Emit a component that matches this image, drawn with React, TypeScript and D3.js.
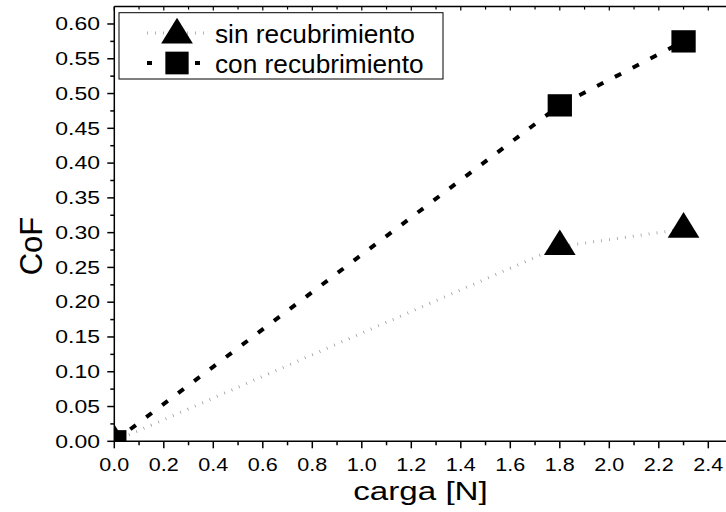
import React from "react";
import * as d3 from "d3";

const carga = [0, 1.8, 2.3];
const sinRecubrimiento = [0, 0.28, 0.305];
const conRecubrimiento = [0, 0.483, 0.575];

const xMajorTicks = [0, 0.2, 0.4, 0.6, 0.8, 1.0, 1.2, 1.4, 1.6, 1.8, 2.0, 2.2, 2.4];
const xMinorTicks = [0.1, 0.3, 0.5, 0.7, 0.9, 1.1, 1.3, 1.5, 1.7, 1.9, 2.1, 2.3];
const yMajorTicks = [0, 0.05, 0.1, 0.15, 0.2, 0.25, 0.3, 0.35, 0.4, 0.45, 0.5, 0.55, 0.6];
const yMinorTicks = [0.025, 0.075, 0.125, 0.175, 0.225, 0.275, 0.325, 0.375, 0.425, 0.475, 0.525, 0.575];

const seriesNames = ["sin recubrimiento", "con recubrimiento"];
const xTitle = "carga [N]";
const yTitle = "CoF";

const W = 726;
const H = 512;
const left = 114.3;
const right = 726;
const top = 6.6;
const bottom = 441.3;

export default function App() {
  const x = d3.scaleLinear().domain([0, 2.4715]).range([left, right]);
  const y = d3.scaleLinear().domain([0, 0.625]).range([bottom, top]);

  const sinData = carga.map((c, i) => [c, sinRecubrimiento[i]] as [number, number]);
  const conData = carga.map((c, i) => [c, conRecubrimiento[i]] as [number, number]);

  const line = d3
    .line<[number, number]>()
    .x((d) => x(d[0]))
    .y((d) => y(d[1]));

  const font = "'Liberation Sans', Arial, sans-serif";
  const triH = 25.7;
  const triW = 31.7;
  const tri = (cx: number, cy: number) =>
    `M${cx},${cy - (2 / 3) * triH} L${cx + triW / 2},${cy + triH / 3} L${cx - triW / 2},${cy + triH / 3} Z`;
  const sqW = 24.3;
  const sqH = 22.3;

  const grayStyle = { stroke: "#909090", strokeWidth: 3, strokeDasharray: "0.7 7.3", fill: "none" };
  const blackStyle = { stroke: "#000", strokeWidth: 4, strokeDasharray: "7 13", fill: "none" };

  return (
    <svg
      width={W}
      height={H}
      style={{ position: "absolute", left: 0, top: 0, background: "#fff" }}
      fontFamily={font}
    >
      <defs>
        <clipPath id="plotclip">
          <rect x={left} y={top} width={right - left} height={bottom - top} />
        </clipPath>
      </defs>
      <rect x={0} y={0} width={W} height={H} fill="#fff" />

      <g clipPath="url(#plotclip)">
        <path d={line(sinData) || ""} style={grayStyle} />
        <path d={line(conData) || ""} style={blackStyle} />
        {sinData.map((d, i) => (
          <path key={"t" + i} d={tri(x(d[0]), y(d[1]))} fill="#000" />
        ))}
        {conData.map((d, i) => (
          <rect
            key={"s" + i}
            x={x(d[0]) - sqW / 2}
            y={y(d[1]) - sqH / 2}
            width={sqW}
            height={sqH}
            fill="#000"
          />
        ))}
      </g>

      {/* axes lines */}
      <line x1={left} x2={right} y1={bottom} y2={bottom} stroke="#000" strokeWidth={1.5} />
      <line x1={left} x2={left} y1={top} y2={bottom} stroke="#000" strokeWidth={1.5} />
      <line x1={left} x2={right} y1={top} y2={top} stroke="#000" strokeWidth={1.5} />

      {/* x ticks */}
      {xMajorTicks.map((t) => (
        <g key={"xm" + t}>
          <line x1={x(t)} x2={x(t)} y1={bottom} y2={bottom + 7} stroke="#000" strokeWidth={1.5} />
          <line x1={x(t)} x2={x(t)} y1={top} y2={top + 4} stroke="#000" strokeWidth={1.2} />
          <g transform={`translate(${x(t)},${470.7}) scale(1.16,1)`}>
            <text x={0} y={0} textAnchor="middle" fontSize={18.6} fill="#000">
              {d3.format(".1f")(t)}
            </text>
          </g>
        </g>
      ))}
      {xMinorTicks.map((t) => (
        <g key={"xn" + t}>
          <line x1={x(t)} x2={x(t)} y1={bottom} y2={bottom + 4} stroke="#000" strokeWidth={1.5} />
          <line x1={x(t)} x2={x(t)} y1={top} y2={top + 3} stroke="#000" strokeWidth={1.2} />
        </g>
      ))}

      {/* y ticks */}
      {yMajorTicks.map((t) => (
        <g key={"ym" + t}>
          <line x1={left - 7} x2={left} y1={y(t)} y2={y(t)} stroke="#000" strokeWidth={1.5} />
          <g transform={`translate(${100},${y(t) + 6.3}) scale(1.3,1)`}>
            <text x={0} y={0} textAnchor="end" fontSize={17.7} fill="#000">
              {d3.format(".2f")(t)}
            </text>
          </g>
        </g>
      ))}
      {yMinorTicks.map((t) => (
        <line key={"yn" + t} x1={left - 4} x2={left} y1={y(t)} y2={y(t)} stroke="#000" strokeWidth={1.5} />
      ))}

      {/* axis titles */}
      <g transform={`translate(${420.5},${500}) scale(1.3,1)`}>
        <text x={0} y={0} textAnchor="middle" fontSize={25.5} fill="#000">
          {xTitle}
        </text>
      </g>
      <text
        transform={`translate(${41.5},${246}) rotate(-90)`}
        textAnchor="middle"
        fontSize={31}
        fill="#000"
      >
        {yTitle}
      </text>

      {/* legend */}
      <rect x={119} y={12.7} width={324} height={66.3} fill="#fff" stroke="#000" strokeWidth={1} />
      <line x1={147} x2={207} y1={33} y2={33} style={grayStyle} strokeDasharray="0.7 4.3" />
      <path d={tri(177, 33 + 2)} fill="#000" />
      <line x1={147} x2={152} y1={63} y2={63} stroke="#000" strokeWidth={4} />
      <line x1={195} x2={200} y1={63} y2={63} stroke="#000" strokeWidth={4} />
      <rect x={177 - 23.3 / 2} y={63 - 22.7 / 2} width={23.3} height={22.7} fill="#000" />
      <g transform={`translate(215,43.3) scale(1.05,1)`}>
        <text x={0} y={0} fontSize={25} fill="#000">
          {seriesNames[0]}
        </text>
      </g>
      <g transform={`translate(215,73.3) scale(1.05,1)`}>
        <text x={0} y={0} fontSize={25} fill="#000">
          {seriesNames[1]}
        </text>
      </g>
    </svg>
  );
}
